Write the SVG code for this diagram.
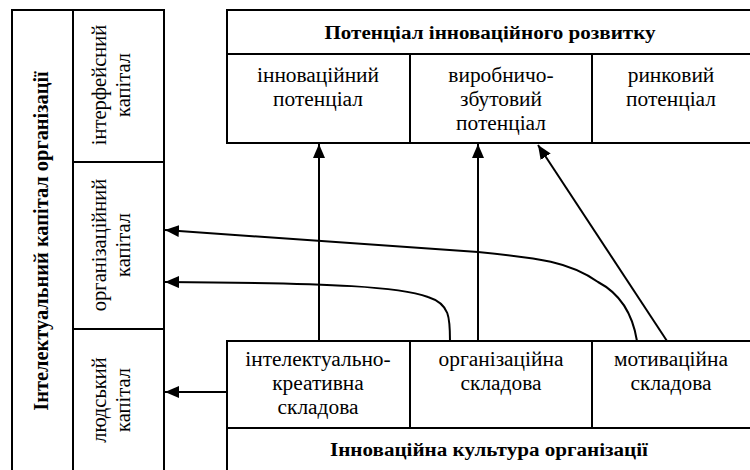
<svg xmlns="http://www.w3.org/2000/svg" width="750" height="470" viewBox="0 0 750 470">
<style>
.box{fill:#fff;stroke:#000;stroke-width:2}
.ln{fill:none;stroke:#000;stroke-width:2}
text{font-family:"Liberation Serif","Times New Roman",serif;fill:#000;text-anchor:middle}
.t{font-size:20px}
.r{font-size:20.5px}
.b{font-size:19px;font-weight:bold}
.rb{font-size:20.4px;font-weight:bold}
.c{fill:none;stroke:#000;stroke-width:2}
</style>
<defs>
<marker id="ah" markerWidth="14" markerHeight="12" refX="14" refY="6" orient="auto" markerUnits="userSpaceOnUse">
<path d="M0,0 L14,6 L0,12 Z" fill="#000"/>
</marker>
</defs>
<g id="ic">
<rect class="box" x="12" y="10" width="152" height="470"/>
<line class="ln" x1="73" y1="10" x2="73" y2="470"/>
<text class="rb" transform="translate(48,241) rotate(-90)">Інтелектуальний капітал організації</text>
</g>
<g id="interface">
<rect class="box" x="73" y="10" width="91" height="152"/>
<text class="r" transform="translate(106,85) rotate(-90)">інтерфейсний</text>
<text class="r" transform="translate(130,85) rotate(-90)">капітал</text>
</g>
<g id="orgcap">
<rect class="box" x="73" y="162" width="91" height="167"/>
<text class="r" transform="translate(106,245) rotate(-90)">організаційний</text>
<text class="r" transform="translate(130,245) rotate(-90)">капітал</text>
</g>
<g id="human">
<rect class="box" x="73" y="329" width="91" height="151"/>
<text class="r" transform="translate(106,400) rotate(-90)">людський</text>
<text class="r" transform="translate(130,400) rotate(-90)">капітал</text>
</g>
<g id="potential">
<rect class="box" x="227" y="10" width="530" height="44"/>
<text class="b" transform="translate(490,39) scale(1.11,1)">Потенціал інноваційного розвитку</text>
</g>
<g id="innopot">
<rect class="box" x="227" y="54" width="183" height="89"/>
<text class="t" transform="translate(318,82) scale(1.07,1)">інноваційний</text>
<text class="t" transform="translate(318,106) scale(1.07,1)">потенціал</text>
</g>
<g id="prodpot">
<rect class="box" x="410" y="54" width="182" height="89"/>
<text class="t" transform="translate(501,82) scale(1.07,1)">виробничо-</text>
<text class="t" transform="translate(501,106) scale(1.07,1)">збутовий</text>
<text class="t" transform="translate(501,130) scale(1.07,1)">потенціал</text>
</g>
<g id="marketpot">
<rect class="box" x="592" y="54" width="165" height="89"/>
<text class="t" transform="translate(671,82) scale(1.07,1)">ринковий</text>
<text class="t" transform="translate(671,106) scale(1.07,1)">потенціал</text>
</g>
<g id="culture">
<rect class="box" x="227" y="428" width="530" height="52"/>
<text class="b" transform="translate(489,456) scale(1.11,1)">Інноваційна культура організації</text>
</g>
<g id="intel">
<rect class="box" x="227" y="341" width="183" height="87"/>
<text class="t" transform="translate(318,366) scale(1.07,1)">інтелектуально-</text>
<text class="t" transform="translate(318,390) scale(1.07,1)">креативна</text>
<text class="t" transform="translate(318,414) scale(1.07,1)">складова</text>
</g>
<g id="orgcomp">
<rect class="box" x="410" y="341" width="182" height="87"/>
<text class="t" transform="translate(501,366) scale(1.07,1)">організаційна</text>
<text class="t" transform="translate(501,390) scale(1.07,1)">складова</text>
</g>
<g id="motiv">
<rect class="box" x="592" y="341" width="165" height="87"/>
<text class="t" transform="translate(671,366) scale(1.07,1)">мотиваційна</text>
<text class="t" transform="translate(671,390) scale(1.07,1)">складова</text>
</g>
<g id="connectors">
<line class="c" x1="319" y1="341" x2="319" y2="144" marker-end="url(#ah)"/>
<line class="c" x1="478" y1="341" x2="478" y2="144" marker-end="url(#ah)"/>
<line class="c" x1="667" y1="341" x2="538" y2="145" marker-end="url(#ah)"/>
<path class="c" d="M637,341 C632,310 617,292 598,282 C570,262 540,258 478,252 L165,230" marker-end="url(#ah)"/>
<path class="c" d="M450,341 C450,318 450,304 428,297 C400,287 340,283 165,282" marker-end="url(#ah)"/>
<line class="c" x1="227" y1="392" x2="165" y2="392" marker-end="url(#ah)"/>
</g>
</svg>
